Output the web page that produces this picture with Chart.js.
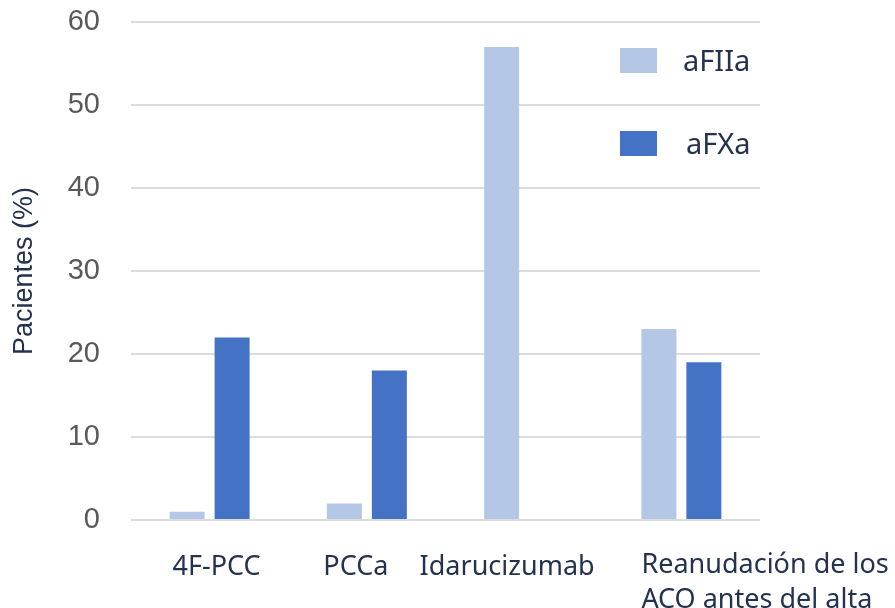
<!DOCTYPE html>
<html>
<head>
<meta charset="utf-8">
<script src="https://cdn.jsdelivr.net/npm/chart.js@4/dist/chart.umd.min.js"></script>
<style>
  html, body { margin: 0; padding: 0; background: #fff; }
  #wrap { width: 895px; height: 608px; position: relative; }
</style>
</head>
<body>
<div id="wrap"><canvas id="chart"></canvas></div>
<script>
// values
const categories = ['4F-PCC', 'PCCa', 'Idarucizumab', ['Reanudación de los', 'ACO antes del alta']];
const seriesNames = ['aFIIa', 'aFXa'];
const aFIIa = [1, 2, 57, 23];
const aFXa = [22, 18, 0, 19];
const yTitle = 'Pacientes (%)';

const colors = ['#B4C7E7', '#4472C4'];
const navy = '#243250';

// labels under the axis, drawn by hand so the long one can sit left-aligned like the original
const xLabelPlugin = {
  id: 'xLabels',
  afterDraw: function (chart) {
    const ctx = chart.ctx;
    const xs = chart.scales.x;
    const base = chart.chartArea.bottom;
    const shift = [7, -11, -17, null];
    ctx.save();
    ctx.fillStyle = navy;
    ctx.font = '27px "Noto Sans"';
    ctx.textBaseline = 'middle';
    categories.forEach(function (lab, i) {
      const cx = xs.getPixelForValue(i);
      const lines = Array.isArray(lab) ? lab : [lab];
      lines.forEach(function (t, j) {
        if (shift[i] === null) {
          ctx.textAlign = 'left';
          ctx.fillText(t, cx - 40, base + 45 + j * 35);
        } else {
          ctx.textAlign = 'center';
          ctx.fillText(t, cx + shift[i], base + 47 + j * 35);
        }
      });
    });
    ctx.restore();
  }
};

// legend inside the plot, top right
const legendPlugin = {
  id: 'innerLegend',
  afterDraw: function (chart) {
    const ctx = chart.ctx;
    ctx.save();
    ctx.font = '29px "Noto Sans"';
    ctx.textBaseline = 'middle';
    ctx.textAlign = 'left';
    seriesNames.forEach(function (name, i) {
      const y = 48 + i * 83;
      ctx.fillStyle = colors[i];
      ctx.fillRect(620, y, 37, 25);
      ctx.fillStyle = navy;
      ctx.fillText(name, 683 + i * 3, y + 15);
    });
    ctx.restore();
  }
};

const ctx = document.getElementById('chart').getContext('2d');
const chart = new Chart(ctx, {
  type: 'bar',
  data: {
    labels: categories,
    datasets: [
      { label: seriesNames[0], data: aFIIa, backgroundColor: colors[0] },
      { label: seriesNames[1], data: aFXa, backgroundColor: colors[1] }
    ]
  },
  options: {
    responsive: true,
    maintainAspectRatio: false,
    animation: false,
    layout: { padding: { top: 22, right: 135, bottom: 88, left: 0 } },
    datasets: {
      bar: { categoryPercentage: 0.572, barPercentage: 0.778 }
    },
    scales: {
      x: {
        afterFit: function (scale) { scale.height = 0; },
        grid: { display: false },
        border: { display: false },
        ticks: { display: false }
      },
      y: {
        min: 0,
        max: 60,
        afterFit: function (scale) { scale.width = 131; },
        ticks: {
          stepSize: 10,
          padding: 4,
          color: '#595959',
          font: { family: '"Liberation Sans", Arial, sans-serif', size: 29 }
        },
        grid: { color: '#DCDCDC', lineWidth: 2, drawTicks: true, tickLength: 27, tickColor: 'rgba(0,0,0,0)' },
        border: { display: false },
        title: {
          display: true,
          text: yTitle,
          color: navy,
          padding: { top: 8, bottom: 4 },
          font: { family: '"Liberation Sans", Arial, sans-serif', size: 27 }
        }
      }
    },
    plugins: {
      legend: { display: false },
      tooltip: { enabled: false }
    }
  },
  plugins: [xLabelPlugin, legendPlugin]
});
</script>
</body>
</html>
